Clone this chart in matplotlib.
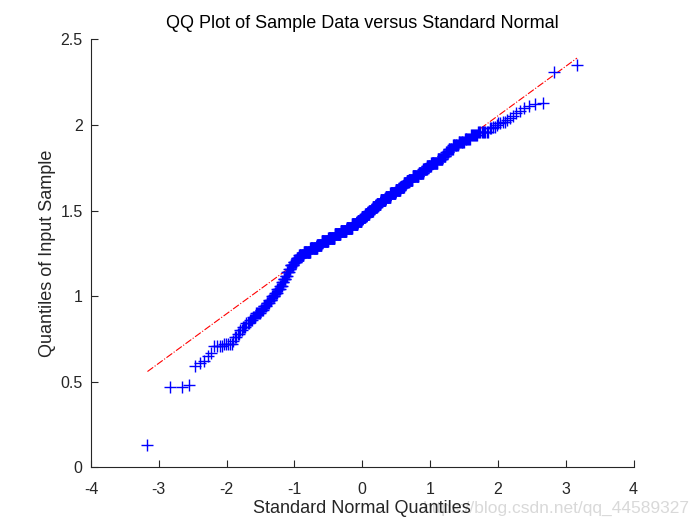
import numpy as np
import matplotlib
matplotlib.use("Agg")
import matplotlib.pyplot as plt
from statistics import NormalDist

# ---- data (sorted sample, value/count groups) ----
left_tail = [0.13, 0.47, 0.47, 0.48, 0.59, 0.61, 0.62, 0.65, 0.67,
             0.71, 0.71, 0.71, 0.71, 0.72, 0.72, 0.72, 0.72, 0.72]
band_values = [0.74, 0.76, 0.78, 0.80, 0.82, 0.84, 0.86, 0.88, 0.90, 0.92,
               0.94, 0.96, 0.98, 1.00, 1.02, 1.04, 1.06, 1.08, 1.10, 1.12,
               1.14, 1.16, 1.18, 1.20, 1.22, 1.24, 1.26, 1.28, 1.30, 1.32,
               1.34, 1.36, 1.38, 1.40, 1.42, 1.44, 1.46, 1.48, 1.50, 1.52,
               1.54, 1.56, 1.58, 1.60, 1.62, 1.64, 1.66, 1.67, 1.68, 1.70,
               1.72, 1.74, 1.76, 1.78, 1.80, 1.82, 1.84, 1.86, 1.88, 1.90,
               1.92, 1.94, 1.96]
band_counts = [1, 2, 2, 2, 3, 3, 3, 4, 5, 4,
               4, 4, 4, 5, 4, 5, 4, 3, 4, 3,
               4, 3, 7, 7, 6, 12, 18, 20, 14, 22,
               22, 21, 22, 21, 21, 15, 14, 15, 14, 15,
               14, 18, 17, 18, 16, 12, 8, 6, 12, 17,
               12, 9, 10, 14, 10, 6, 5, 7, 8, 8,
               7, 7, 9]
right_tail = [1.98, 1.98, 1.99, 1.99, 2.00, 2.01, 2.01, 2.02, 2.02, 2.03,
              2.04, 2.05, 2.07, 2.08, 2.10, 2.11, 2.12, 2.13, 2.31, 2.35]

x_ticks = [-4, -3, -2, -1, 0, 1, 2, 3, 4]
y_ticks = [0, 0.5, 1, 1.5, 2, 2.5]
y_ticklabels = ['0', '0.5', '1', '1.5', '2', '2.5']

# ---- assemble sample ----
sample = np.sort(np.concatenate([left_tail,
                                 np.repeat(band_values, band_counts),
                                 right_tail]))
n = len(sample)
nd = NormalDist()
theo = np.array([nd.inv_cdf((i - 0.5) / n) for i in range(1, n + 1)])

# reference line through first and third quartiles (MATLAB qqplot style)
q1, q3 = np.percentile(sample, [25, 75], method="hazen")
z1, z3 = nd.inv_cdf(0.25), nd.inv_cdf(0.75)
slope = (q3 - q1) / (z3 - z1)
icpt = q1 - slope * z1
xl = np.array([theo.min(), theo.max()])
yl = icpt + slope * xl

plt.rcParams['font.family'] = ['Liberation Sans', 'DejaVu Sans']
fig = plt.figure(figsize=(7, 5.25), dpi=100)
ax = fig.add_axes([0.13, 0.11, 0.775, 0.815])

ax.plot(theo, sample, '+', color='#0000ff', markersize=8, markeredgewidth=1.0, zorder=3)
ax.plot(xl, yl, '-.', color='#ff0000', linewidth=0.8, zorder=2)

ax.set_xlim(-4, 4)
ax.set_ylim(0, 2.5)
ax.set_xticks(x_ticks)
ax.set_xticklabels([str(t) for t in x_ticks])
ax.set_yticks(y_ticks)
ax.set_yticklabels(y_ticklabels)
ax.tick_params(direction='in', length=5, width=0.8, labelsize=11.5, colors='#262626')
ax.tick_params(axis='x', pad=10.5)
ax.tick_params(axis='y', pad=6)
for s in ['top', 'right']:
    ax.spines[s].set_visible(False)
for s in ['left', 'bottom']:
    ax.spines[s].set_color('#262626')
    ax.spines[s].set_linewidth(0.8)

ax.set_title('QQ Plot of Sample Data versus Standard Normal', fontsize=13, color='black', pad=8)
ax.set_xlabel('Standard Normal Quantiles', fontsize=13, color='#262626', labelpad=2)
ax.set_ylabel('Quantiles of Input Sample', fontsize=13, color='#262626', labelpad=3)

fig.text(0.986, 0.032, 'https://blog.csdn.net/qq_44589327', ha='right', va='center',
         fontsize=12.5, color='#d9d9d9', zorder=-1)

fig.savefig('out.png', dpi=100)
